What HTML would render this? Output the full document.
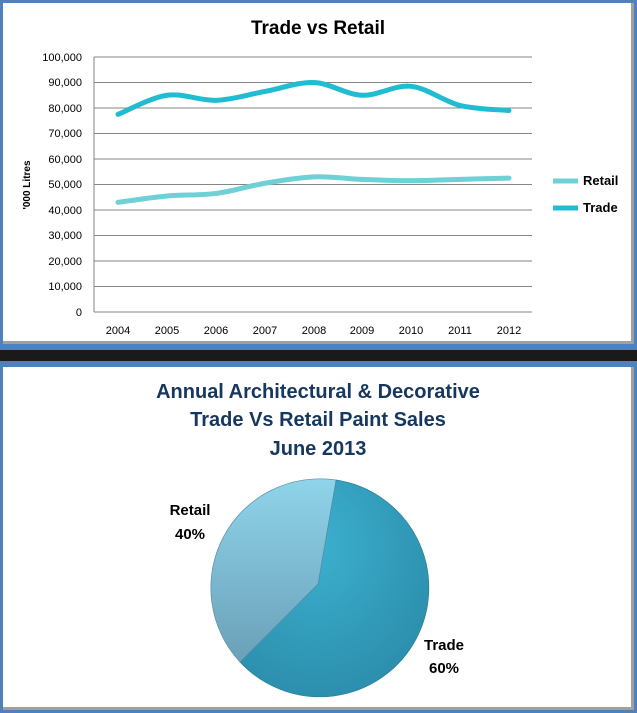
<!DOCTYPE html>
<html><head><meta charset="utf-8"><style>
body{margin:0;width:637px;height:713px;background:#1a1a1a;overflow:hidden;font-family:"Liberation Sans",Arial,sans-serif}
.p{position:absolute;left:0;width:631px;background:#fff;border:3px solid #4f81bd;box-shadow:inset -3px -3px 0 #a0a0a0}
</style></head><body>
<div class="p" style="top:0;height:341px"></div>
<div class="p" style="top:364px;height:343px"></div>
<svg width="637" height="713" style="position:absolute;left:0;top:0" font-family="Liberation Sans, Arial, sans-serif">
<defs>
<radialGradient id="gt" cx="0.4" cy="0.3" r="0.8"><stop offset="0" stop-color="#3cb0cf"/><stop offset="1" stop-color="#2a8aa8"/></radialGradient>
<linearGradient id="gr" x1="0" y1="0" x2="0" y2="1"><stop offset="0" stop-color="#8fd4ea"/><stop offset="1" stop-color="#6aa0b8"/></linearGradient>
</defs>
<text x="318" y="34" font-size="19" font-weight="bold" text-anchor="middle">Trade vs Retail</text>
<g stroke="#868686" stroke-width="1">
<line x1="94" y1="57" x2="532" y2="57"/><line x1="94" y1="82.5" x2="532" y2="82.5"/><line x1="94" y1="108" x2="532" y2="108"/><line x1="94" y1="133.5" x2="532" y2="133.5"/><line x1="94" y1="159" x2="532" y2="159"/><line x1="94" y1="184.5" x2="532" y2="184.5"/><line x1="94" y1="210" x2="532" y2="210"/><line x1="94" y1="235.5" x2="532" y2="235.5"/><line x1="94" y1="261" x2="532" y2="261"/><line x1="94" y1="286.5" x2="532" y2="286.5"/><line x1="94" y1="312" x2="532" y2="312"/><line x1="94" y1="57" x2="94" y2="312"/>
</g>
<g font-size="11" text-anchor="end">
<text x="82" y="61">100,000</text><text x="82" y="86">90,000</text><text x="82" y="112">80,000</text><text x="82" y="137">70,000</text><text x="82" y="163">60,000</text><text x="82" y="188">50,000</text><text x="82" y="214">40,000</text><text x="82" y="239">30,000</text><text x="82" y="265">20,000</text><text x="82" y="290">10,000</text><text x="82" y="316">0</text>
</g>
<g font-size="11" text-anchor="middle">
<text x="118" y="334">2004</text><text x="167" y="334">2005</text><text x="216" y="334">2006</text><text x="265" y="334">2007</text><text x="314" y="334">2008</text><text x="362" y="334">2009</text><text x="411" y="334">2010</text><text x="460" y="334">2011</text><text x="509" y="334">2012</text>
</g>
<text transform="translate(30,185) rotate(-90)" font-size="10" font-weight="bold" text-anchor="middle">'000 Litres</text>
<path id="tr" fill="none" stroke="#21bcd0" stroke-width="5" stroke-linecap="round"/>
<path id="re" fill="none" stroke="#6fd0d6" stroke-width="5" stroke-linecap="round"/>
<line x1="553" y1="181" x2="578" y2="181" stroke="#6fd0d6" stroke-width="5"/>
<line x1="553" y1="208" x2="578" y2="208" stroke="#21bcd0" stroke-width="5"/>
<text x="583" y="185" font-size="13" font-weight="bold">Retail</text>
<text x="583" y="212" font-size="13" font-weight="bold">Trade</text>
<g font-size="20" font-weight="bold" fill="#17375e" text-anchor="middle">
<text x="318" y="398">Annual Architectural &amp; Decorative</text>
<text x="318" y="426">Trade Vs Retail Paint Sales</text>
<text x="318" y="455">June 2013</text>
</g>
<path d="M318,584 L336,480 A109,109 0 1 1 240,662 Z" fill="url(#gt)" stroke="#2a7f98" stroke-width="0.7"/>
<path d="M318,584 L240,662 A109,109 0 0 1 336,480 Z" fill="url(#gr)" stroke="#5a8fa8" stroke-width="0.7"/>
<g font-size="15" font-weight="bold" text-anchor="middle">
<text x="190" y="515">Retail</text><text x="190" y="539">40%</text>
<text x="444" y="650">Trade</text><text x="444" y="673">60%</text>
</g>
</svg>
<div style="position:absolute;left:0;top:347px;width:637px;height:3px;background:#4f81bd"></div>
<div style="position:absolute;left:0;top:361px;width:637px;height:3px;background:#4f81bd"></div>
<script>
var X=[118,167,216,265,314,362,411,460,509];
function path(v){var p=X.map(function(x,i){return [x,312-v[i]*2.55]});var d="M"+p[0];
for(var i=0;i<p.length-1;i++){var a=p[i-1]||p[i],b=p[i],c=p[i+1],e=p[i+2]||c;
d+=" C"+(b[0]+(c[0]-a[0])/6)+","+(b[1]+(c[1]-a[1])/6)+" "+(c[0]-(e[0]-b[0])/6)+","+(c[1]-(e[1]-b[1])/6)+" "+c;}return d;}
document.getElementById("tr").setAttribute("d",path([77.5,85,83,86.5,90,85,88.5,81,79]));
document.getElementById("re").setAttribute("d",path([43,45.5,46.5,50.5,53,52,51.5,52,52.5]));
</script>
</body></html>
